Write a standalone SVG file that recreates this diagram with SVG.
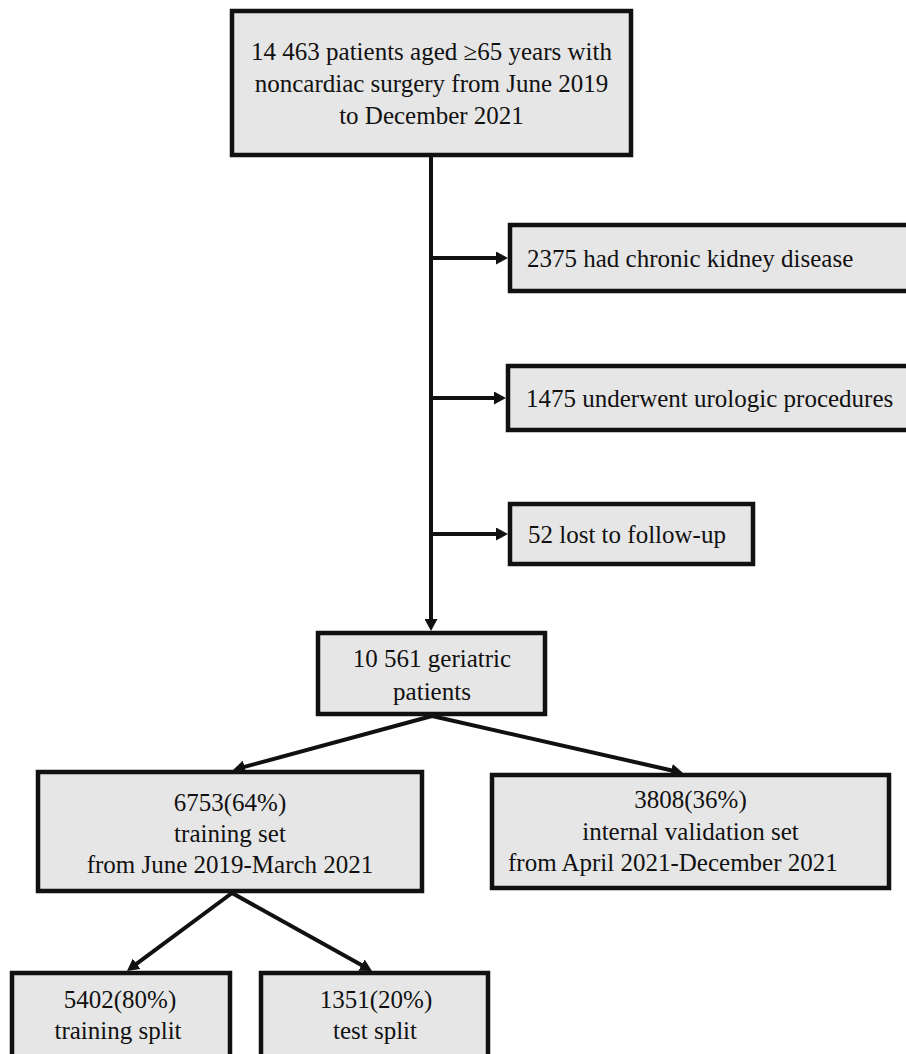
<svg xmlns="http://www.w3.org/2000/svg" width="906" height="1054" viewBox="0 0 906 1054">
<style>
.box{fill:#e6e6e6;stroke:#111;stroke-width:4.5}
.t{font-family:"Liberation Serif","Times New Roman",serif;font-size:25px;fill:#111}
.c{text-anchor:middle}
.ln{stroke:#111;stroke-width:4;fill:none;marker-end:url(#ah)}
</style>
<defs>
<marker id="ah" markerUnits="userSpaceOnUse" markerWidth="13" markerHeight="13" refX="4" refY="6.5" orient="auto">
<path d="M0,0 L12,6.5 L0,13 z" fill="#111"/>
</marker>
</defs>
<rect width="906" height="1054" fill="#fff"/>
<g id="connectors">
<line class="ln" x1="431" y1="157" x2="431" y2="623"/>
<line class="ln" x1="431" y1="258" x2="500" y2="258"/>
<line class="ln" x1="431" y1="398" x2="498" y2="398"/>
<line class="ln" x1="431" y1="534" x2="500" y2="534"/>
<line class="ln" x1="432" y1="716" x2="240.7" y2="767.9"/>
<line class="ln" x1="432" y1="716" x2="675.2" y2="771.2"/>
<line class="ln" x1="232" y1="893" x2="133.4" y2="966.2"/>
<line class="ln" x1="232" y1="893" x2="365" y2="967.1"/>
</g>
<g id="n-top">
<rect class="box" x="232" y="11" width="399" height="144"/>
<text class="t c" x="431.5" y="60">14 463 patients aged ≥65 years with</text>
<text class="t c" x="431.5" y="92">noncardiac surgery from June 2019</text>
<text class="t c" x="431.5" y="124">to December 2021</text>
</g>
<g id="n-ckd">
<rect class="box" x="510" y="225" width="420" height="66"/>
<text class="t" x="527" y="267">2375 had chronic kidney disease</text>
</g>
<g id="n-uro">
<rect class="box" x="508" y="366" width="420" height="64"/>
<text class="t" x="526" y="407">1475 underwent urologic procedures</text>
</g>
<g id="n-lost">
<rect class="box" x="510" y="504" width="243" height="60"/>
<text class="t" x="528" y="543">52 lost to follow-up</text>
</g>
<g id="n-geri">
<rect class="box" x="318" y="633" width="227" height="81"/>
<text class="t c" x="432" y="667">10 561 geriatric</text>
<text class="t c" x="432" y="700">patients</text>
</g>
<g id="n-train">
<rect class="box" x="38" y="772" width="384" height="119"/>
<text class="t c" x="230" y="811">6753(64%)</text>
<text class="t c" x="230" y="842">training set</text>
<text class="t c" x="230" y="873">from June 2019-March 2021</text>
</g>
<g id="n-valid">
<rect class="box" x="492" y="775" width="397" height="113"/>
<text class="t c" x="690.5" y="808">3808(36%)</text>
<text class="t c" x="690.5" y="840">internal validation set</text>
<text class="t" x="508" y="871">from April 2021-December 2021</text>
</g>
<g id="n-trsplit">
<rect class="box" x="12" y="973" width="218" height="100"/>
<text class="t c" x="120" y="1008">5402(80%)</text>
<text class="t c" x="118" y="1039">training split</text>
</g>
<g id="n-test">
<rect class="box" x="261" y="973" width="227" height="100"/>
<text class="t c" x="376" y="1008">1351(20%)</text>
<text class="t c" x="375" y="1039">test split</text>
</g>
</svg>
